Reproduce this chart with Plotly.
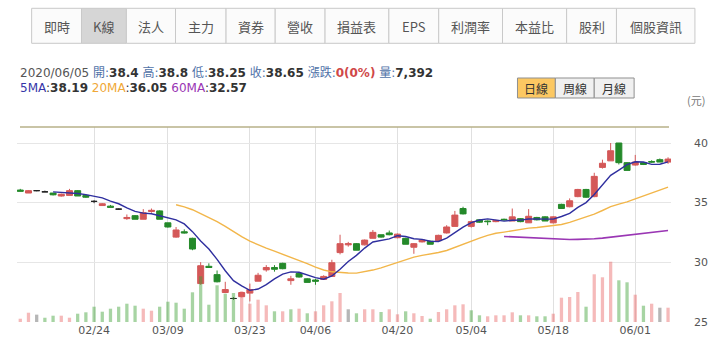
import plotly.graph_objects as go

# ---------------- data ----------------
dates = [
    "2020/02/11", "2020/02/12", "2020/02/13", "2020/02/14", "2020/02/17", "2020/02/18", "2020/02/19",
    "2020/02/20", "2020/02/21", "2020/02/24", "2020/02/25", "2020/02/26", "2020/02/27",
    "2020/03/02", "2020/03/03", "2020/03/04", "2020/03/05", "2020/03/06", "2020/03/09", "2020/03/10",
    "2020/03/11", "2020/03/12", "2020/03/13", "2020/03/16", "2020/03/17", "2020/03/18", "2020/03/19",
    "2020/03/20", "2020/03/23", "2020/03/24", "2020/03/25", "2020/03/26", "2020/03/27", "2020/03/30",
    "2020/03/31", "2020/04/01", "2020/04/06", "2020/04/07", "2020/04/08", "2020/04/09", "2020/04/10",
    "2020/04/13", "2020/04/14", "2020/04/15", "2020/04/16", "2020/04/17", "2020/04/20", "2020/04/21",
    "2020/04/22", "2020/04/23", "2020/04/24", "2020/04/27", "2020/04/28", "2020/04/29", "2020/04/30",
    "2020/05/04", "2020/05/05", "2020/05/06", "2020/05/07", "2020/05/08", "2020/05/11", "2020/05/12",
    "2020/05/13", "2020/05/14", "2020/05/15", "2020/05/18", "2020/05/19", "2020/05/20", "2020/05/21",
    "2020/05/22", "2020/05/25", "2020/05/26", "2020/05/27", "2020/05/28", "2020/05/29", "2020/06/01",
    "2020/06/02", "2020/06/03", "2020/06/04", "2020/06/05",
]
opens = [36.05, 35.8, 36.0, 35.9, 35.8, 35.55, 35.6, 36.0, 35.6, 35.1,
         34.75, 34.7, 34.45, 33.65, 33.9, 33.6, 34.25, 34.3, 33.3, 32.1,
         32.55, 32.0, 28.2, 29.65, 28.95, 27.45, 26.95, 27.1, 27.4, 28.4,
         29.35, 29.55, 29.9, 28.45, 29.05, 28.6, 28.5, 28.55, 28.8, 30.8,
         31.45, 31.55, 31.45, 32.0, 32.3, 32.45, 32.05, 32.0, 31.25, 31.7,
         31.75, 31.8, 32.45, 33.0, 34.5, 33.0, 33.55, 33.45, 33.4, 33.6,
         33.45, 33.65, 33.3, 33.75, 33.8, 33.3, 34.85, 34.65, 35.5, 36.1,
         35.5, 37.95, 38.5, 40.0, 38.35, 38.15, 38.35, 38.45, 38.6, 38.4]
highs = [36.15, 36.05, 36.05, 36.0, 35.8, 35.75, 36.15, 36.05, 35.65, 35.2,
         34.95, 34.8, 34.5, 34.0, 33.95, 34.45, 34.5, 34.35, 33.3, 32.95,
         32.75, 32.05, 30.0, 29.9, 29.3, 28.35, 27.05, 27.5, 28.2, 29.1,
         29.75, 29.75, 29.95, 28.85, 29.15, 28.65, 28.6, 28.9, 30.2, 32.3,
         31.7, 31.6, 31.9, 32.7, 32.3, 32.65, 32.4, 32.05, 31.6, 31.9,
         31.8, 32.3, 33.1, 34.3, 34.65, 33.5, 33.6, 33.5, 33.55, 33.65,
         34.5, 33.7, 34.45, 33.8, 33.85, 33.85, 34.9, 35.35, 36.15, 36.15,
         37.5, 38.6, 40.0, 40.0, 38.4, 39.0, 38.4, 38.55, 38.7, 38.8]
lows = [35.95, 35.8, 35.95, 35.9, 35.6, 35.5, 35.6, 35.55, 35.4, 34.95,
        34.75, 34.6, 34.4, 33.55, 33.6, 33.6, 34.15, 33.6, 32.9, 32.05,
        32.4, 31.0, 28.1, 29.55, 28.3, 27.4, 26.85, 27.05, 26.7, 28.4,
        29.2, 29.2, 29.4, 28.1, 28.7, 28.3, 28.1, 28.5, 28.8, 30.65,
        31.3, 31.0, 31.4, 32.0, 32.05, 32.25, 32.0, 31.5, 30.7, 31.65,
        31.5, 31.75, 32.4, 33.0, 34.0, 32.9, 33.3, 33.1, 33.35, 33.5,
        33.45, 33.35, 33.3, 33.5, 33.45, 33.25, 34.5, 34.6, 35.45, 35.4,
        35.45, 37.85, 38.5, 38.2, 37.7, 38.1, 38.15, 38.35, 38.4, 38.25]
closes = [35.95, 36.0, 36.0, 35.9, 35.65, 35.7, 36.0, 35.55, 35.45, 35.1,
          34.9, 34.6, 34.45, 33.75, 33.6, 34.15, 34.35, 33.6, 32.95, 32.7,
          32.45, 31.1, 29.7, 29.55, 28.35, 27.7, 26.95, 27.45, 27.7, 28.9,
          29.55, 29.4, 29.45, 28.6, 28.75, 28.3, 28.4, 28.8, 29.95, 31.55,
          31.55, 31.0, 31.85, 32.5, 32.1, 32.3, 32.35, 31.5, 31.55, 31.85,
          31.5, 32.25, 32.95, 33.95, 34.05, 33.4, 33.35, 33.4, 33.5, 33.55,
          33.8, 33.4, 33.85, 33.55, 33.45, 33.8, 34.5, 35.15, 36.1, 35.45,
          37.2, 38.3, 39.35, 38.35, 37.7, 38.4, 38.2, 38.4, 38.4, 38.65]
volumes = [1700, 4800, 3800, 2200, 3260, 3260, 2220, 4290, 5010, 7910,
           5330, 6880, 7910, 9460, 8430, 6880, 5840, 7910, 10500, 9980,
           6880, 15350, 23630, 8940, 18970, 14630, 14990, 15870, 9460, 11530,
           8630, 5530, 5530, 6570, 6880, 4500, 5530, 8630, 10700, 14990,
           6570, 4500, 6570, 6570, 5170, 6570, 3980, 5530, 4500, 3100,
           1710, 5170, 6570, 8630, 9150, 6050, 3460, 2950, 3460, 3460,
           5010, 3460, 3460, 2950, 2950, 4290, 12560, 12930, 15510, 7910,
           24660, 23110, 31180, 21560, 20520, 14110, 8430, 9460, 7390, 7392]
prev_close_before_first = 35.85

tick_dates = ["2020/02/24", "2020/03/09", "2020/03/23", "2020/04/06",
              "2020/04/20", "2020/05/04", "2020/05/18", "2020/06/01"]
tick_labels = ["02/24", "03/09", "03/23", "04/06", "04/20", "05/04", "05/18", "06/01"]
price_ticks = [25, 30, 35, 40]
tabs = ["即時", "K線", "法人", "主力", "資券", "營收", "損益表", "EPS", "利潤率", "本益比", "股利", "個股資訊"]
period_buttons = ["日線", "周線", "月線"]

# ---------------- layout helpers ----------------
W, H = 720, 362
ML, MR, MT, MB = 17, 47, 127, 40
PW, PH = W - ML - MR, H - MT - MB


def px_x(x):
    return (x - ML) / PW


def px_y(y):
    return 1 - (y - MT) / PH


def moving_avg(vals, n):
    out = []
    for i in range(len(vals)):
        out.append(None if i < n - 1 else sum(vals[i - n + 1:i + 1]) / n)
    return out


RED, GREEN, BLACK = "#d45858", "#24892a", "#222222"

fig = go.Figure()

# candles split by body direction
groups = {"up": [], "down": [], "flat": []}
for i in range(len(dates)):
    if closes[i] > opens[i]:
        groups["up"].append(i)
    elif closes[i] < opens[i]:
        groups["down"].append(i)
    else:
        groups["flat"].append(i)
gcol = {"up": RED, "down": GREEN, "flat": BLACK}
for g, idx in groups.items():
    c = gcol[g]
    fig.add_trace(go.Candlestick(
        x=[dates[i] for i in idx],
        open=[opens[i] for i in idx], high=[highs[i] for i in idx],
        low=[lows[i] for i in idx], close=[closes[i] for i in idx],
        increasing=dict(line=dict(color=c, width=1), fillcolor=c),
        decreasing=dict(line=dict(color=c, width=1), fillcolor=c),
        whiskerwidth=0, hoverinfo="skip", showlegend=False,
    ))

# volume colours by change vs previous close
vcols = []
for i, c in enumerate(closes):
    p = closes[i - 1] if i > 0 else prev_close_before_first
    if c > p:
        vcols.append("rgba(232,90,90,0.42)")
    elif c < p:
        vcols.append("rgba(60,160,50,0.45)")
    else:
        vcols.append("rgba(110,110,110,0.5)")
fig.add_trace(go.Bar(x=dates, y=volumes, marker=dict(color=vcols, line=dict(width=0)),
                     width=0.4, yaxis="y2", hoverinfo="skip", showlegend=False))

# moving averages
for n, col, w in [(60, "#9a36b4", 1.6), (20, "#f2b64a", 1.4), (5, "#2f2f9f", 1.4)]:
    fig.add_trace(go.Scatter(x=dates, y=moving_avg(closes, n), mode="lines",
                             line=dict(color=col, width=w), hoverinfo="skip",
                             showlegend=False, yaxis="y"))

axis_font = dict(family="DejaVu Sans", size=11, color="#555555")
y_bottom = 25 - (MT + PH - 321.7) / 11.913
y_top = 40 + (143 - MT) / 11.913
fig.update_layout(
    width=W, height=H, margin=dict(l=ML, r=MR, t=MT, b=MB),
    paper_bgcolor="white", plot_bgcolor="white", showlegend=False,
    boxgap=0.27, boxgroupgap=0,
    xaxis=dict(type="category", categoryorder="array", categoryarray=dates,
               range=[-0.4, 79.36], tickmode="array", tickvals=tick_dates, ticktext=tick_labels,
               showgrid=True, gridcolor="#e0e0e0", gridwidth=1, ticks="", showline=False,
               zeroline=False, tickfont=axis_font, rangeslider=dict(visible=False),
               fixedrange=True),
    yaxis=dict(side="right", range=[y_bottom, y_top], tickmode="array", tickvals=price_ticks,
               showgrid=True, gridcolor="#e6e6e6", gridwidth=1, ticks="", showline=False,
               zeroline=False, tickfont=axis_font, ticklabelstandoff=22, fixedrange=True),
    yaxis2=dict(overlaying="y", range=[0, PH * 7392 / 14.3], visible=False, fixedrange=True),
)

shapes = []
annos = []
# top border line of the chart
shapes.append(dict(type="line", xref="paper", yref="paper", x0=px_x(20), x1=px_x(671),
                   y0=1, y1=1, line=dict(color="#b7b189", width=1.5)))

# tab bar
tab_edges = [31.7, 81.7, 126.7, 176, 226.7, 276, 326, 390, 440, 504, 568.3, 618.3, 697]
for i, t in enumerate(tabs):
    x0, x1 = tab_edges[i], tab_edges[i + 1]
    fill = "#d6d6d6" if t == "K線" else "#fbfbfb"
    shapes.append(dict(type="rect", xref="paper", yref="paper", x0=px_x(x0), x1=px_x(x1),
                       y0=px_y(43.3), y1=px_y(8.3), fillcolor=fill,
                       line=dict(color="#c9c9c9", width=1), layer="above"))
    annos.append(dict(text=t, xref="paper", yref="paper", x=px_x((x0 + x1) / 2), y=px_y(26),
                      xanchor="center", yanchor="middle", showarrow=False,
                      font=dict(family="Noto Sans CJK TC", size=13, color="#555555")))

# info lines
lab = "#4f72a8"
line1 = ('<span style="color:#555555">2020/06/05 </span>'
         f'<span style="color:{lab}">開:</span><b>38.4</b> '
         f'<span style="color:{lab}">高:</span><b>38.8</b> '
         f'<span style="color:{lab}">低:</span><b>38.25</b> '
         f'<span style="color:{lab}">收:</span><b>38.65</b> '
         f'<span style="color:{lab}">漲跌:</span><b><span style="color:#d04848">0(0%)</span></b> '
         f'<span style="color:{lab}">量:</span><b>7,392</b>')
line2 = ('<span style="color:#3535a8">5MA</span>:<b>38.19</b> '
         '<span style="color:#f0a838">20MA</span>:<b>36.05</b> '
         '<span style="color:#9a36b4">60MA</span>:<b>32.57</b>')
for txt, y in [(line1, 72), (line2, 88)]:
    annos.append(dict(text=txt, xref="paper", yref="paper", x=px_x(18), y=px_y(y),
                      xanchor="left", yanchor="middle", showarrow=False,
                      font=dict(family="DejaVu Sans, Noto Sans CJK TC", size=12, color="#333333")))

# period buttons
btn_edges = [519, 557, 596, 636]
for i, b in enumerate(period_buttons):
    x0, x1 = btn_edges[i], btn_edges[i + 1]
    shapes.append(dict(type="rect", xref="paper", yref="paper", x0=px_x(x0), x1=px_x(x1),
                       y0=px_y(98), y1=px_y(78), fillcolor="#fcc862" if i == 0 else "#f0f0f0",
                       line=dict(color="#8f8f8f", width=1), layer="above"))
    annos.append(dict(text=b, xref="paper", yref="paper", x=px_x((x0 + x1) / 2), y=px_y(88),
                      xanchor="center", yanchor="middle", showarrow=False,
                      font=dict(family="Noto Sans CJK TC", size=12, color="#333333")))

annos.append(dict(text="(元)", xref="paper", yref="paper", x=px_x(698), y=px_y(100),
                  xanchor="center", yanchor="middle", showarrow=False,
                  font=dict(family="Noto Sans CJK TC", size=11, color="#777777")))

fig.update_layout(shapes=shapes, annotations=annos)
fig.write_html("out.html")
